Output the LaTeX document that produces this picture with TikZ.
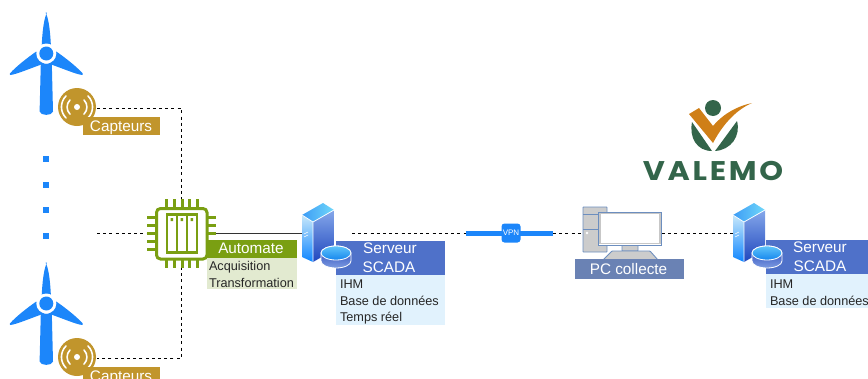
\documentclass[tikz,border=0pt]{standalone}
\usepackage{fontspec}
\setmainfont{Liberation Sans}
\newfontfamily\logofont[LetterSpace=9]{Poppins}
\usetikzlibrary{calc}
\definecolor{tblue}{HTML}{1C86FA}
\definecolor{sgold}{HTML}{C1952C}
\definecolor{cgreen}{HTML}{7A9F12}
\definecolor{clight}{HTML}{E2EAD0}
\definecolor{sblue}{HTML}{4F71C9}
\definecolor{slight}{HTML}{E1F2FD}
\definecolor{pcblue}{HTML}{6A82B4}
\definecolor{pcline}{HTML}{6C8EBF}
\definecolor{lgreen}{HTML}{33654A}
\definecolor{lorange}{HTML}{CF7F17}
\definecolor{frontT}{HTML}{86A8EA}
\definecolor{frontB}{HTML}{1F47BE}
\definecolor{sideT}{HTML}{C8E8FA}
\definecolor{sideB}{HTML}{0F86FF}
\definecolor{topL}{HTML}{3D9CF5}
\definecolor{topR}{HTML}{70D8FA}
\definecolor{diskT}{HTML}{5FC4FA}
\definecolor{diskB}{HTML}{1586EE}
\definecolor{wallT}{HTML}{2240B8}
\definecolor{wallB}{HTML}{7C9BE0}
\tikzset{
 conn/.style={draw=black,line width=0.9pt,dash pattern=on 3pt off 3.2pt},
 lab/.style={inner sep=0pt,outer sep=0pt,font=\fontsize{15.3}{17}\selectfont,text=white,anchor=base},
 sub/.style={inner sep=0pt,outer sep=0pt,font=\fontsize{12.7}{14}\selectfont,text=black!85,anchor=base west},
 box/.style={inner sep=0pt,outer sep=0pt,anchor=north west,minimum height=0pt},
 pcpart/.style={draw=pcline,fill=black!20,line width=0.9pt,rounded corners=0.6pt},
 wave/.style={white,line width=1.6pt,line cap=round},
 pin/.style={cgreen,line width=3pt},
}
\newcommand{\turbine}[2]{%
 \begin{scope}[shift={(#1,#2)}]
  \fill[tblue] (-5.5,10) -- (5.5,10) -- (6.7,58) .. controls (6,62.5) and (-6,62.5) .. (-6.7,58) -- cycle;
  \fill[tblue] (-0.8,-41) .. controls (1.5,-37) and (3.6,-28) .. (4.6,-8) -- (-4.6,-8) .. controls (-3.6,-28) and (-1.5,-37) .. (0.8,-41) -- cycle;
  \fill[tblue] (-10,-2) -- (-2,10) .. controls (-14,14) and (-30,21) .. (-36,21.5) .. controls (-37,21) and (-36.5,20) .. (-36,19.5) .. controls (-30,13) and (-20,5) .. (-10,-2) -- cycle;
  \fill[tblue] (10,-2) -- (2,10) .. controls (14,14) and (30,21) .. (36,21.5) .. controls (37,21) and (36.5,20) .. (36,19.5) .. controls (30,13) and (20,5) .. (10,-2) -- cycle;
  \fill[white] (0,0) circle (10);
  \fill[tblue] (0,0) circle (7);
 \end{scope}}
\newcommand{\sensor}[2]{%
 \begin{scope}[shift={(#1,#2)}]
  \fill[sgold] (0,0) circle (19);
  \fill[white] (0,0) circle (3);
  \draw[wave] (-7,-7) arc (225:135:10);
  \draw[wave] (7,-7) arc (-45:45:10);
  \draw[wave] (-11,-11) arc (225:135:15.5);
  \draw[wave] (11,-11) arc (-45:45:15.5);
 \end{scope}}
\newcommand{\serverico}[2]{%
 \begin{scope}[shift={(#1,#2)}]
  \shade[top color=sideT,bottom color=sideB] (0,0) -- (11,7) -- (11,47) -- (0,42) -- cycle;
  \shade[top color=frontT,bottom color=frontB] (11,7) -- (32,-5) -- (32,35) -- (11,47) -- cycle;
  \shade[left color=topL,right color=topR] (0,0) -- (21,-12) -- (32,-5) -- (11,7) -- cycle;
  \draw[white,line width=0.7pt] (0,0) -- (11,7) -- (32,-5) (11,7) -- (11,47);
  \draw[white,line width=0.5pt] (2,19) -- (6,17) (2,22) -- (6,20);
  \shade[top color=wallT,bottom color=wallB,draw=white,line width=0.8pt] (19,38) -- (19,46) arc (180:0:15 and 7) -- (49,38) arc (0:-180:15 and 7) -- cycle;
  \shade[top color=diskT,bottom color=diskB,draw=white,line width=0.8pt] (34,38) ellipse (15 and 7);
 \end{scope}}
\begin{document}
\begin{tikzpicture}[x=1pt,y=-1pt]
\useasboundingbox (0,0) rectangle (868,378);
\clip (0,0) rectangle (868,378);

\coordinate (s1) at (97,108);
\coordinate (s1c) at (181.5,108);
\coordinate (s2) at (97,358);
\coordinate (s2c) at (181.5,358);
\coordinate (wf) at (97,233);

\turbine{46.3}{53.5}
\turbine{46.3}{303.5}
\foreach \yy in {159,185,210,236}{\fill[tblue] (42.5,\yy-3) rectangle (48.5,\yy+3);}

\node[box,minimum width=19pt,minimum height=19pt] (vpn) at (501.5,223.5) {};
\coordinate (srvR) at (352,233);
\coordinate (srvL) at (302,233);
\coordinate (vpnL) at (466,233);
\coordinate (vpnR) at (553,233);
\coordinate (srv2L) at (733,233);
\coordinate (pcL) at (600,233);
\coordinate (pcR) at (662,233);
\coordinate (chipT) at (181.5,199);
\coordinate (chipB) at (181.5,267);
\coordinate (chipL) at (147,233);
\coordinate (chipR) at (216,233);

\draw[conn] (s1) -- (s1c) -- (chipT);
\draw[conn] (chipB) -- (s2c) -- (s2);
\draw[conn] (wf) -- (chipL);
\draw[black!80,line width=1pt] (chipR) -- (srvL);
\draw[conn] (srvR) -- (vpnL);
\draw[conn] (vpnR) -- (pcL);
\draw[conn] (pcR) -- (srv2L);
\draw[tblue,line width=5pt] (vpnL) -- (vpnR);
\node[fill=tblue,rounded corners=3pt,minimum width=19pt,minimum height=19pt,inner sep=0pt,text=white,font=\fontsize{8}{9}\selectfont] at (vpn) {VPN};

\sensor{77}{107}
\sensor{77}{357}
\node[box,fill=sgold,minimum width=77pt,minimum height=18pt] (c1) at (83,117) {};
\node[lab] at (121,131) {Capteurs};
\node[box,fill=sgold,minimum width=77pt,minimum height=18pt] (c2) at (83,367) {};
\node[lab] at (121,381) {Capteurs};

\fill[white] (156,208) rectangle (207,259);
\foreach \k in {166,174,182,189,197}{
 \draw[pin] (\k,199) -- (\k,208);
 \draw[pin] (\k,259) -- (\k,268);
}
\foreach \k in {217,225,233,241,249}{
 \draw[pin] (147,\k) -- (156,\k);
 \draw[pin] (207,\k) -- (216,\k);
}
\draw[cgreen,line width=3pt,fill=white,rounded corners=4pt] (156.5,208.5) rectangle (207,259);
\draw[cgreen,line width=2.6pt] (167,214.5) rectangle (197,252.5);
\draw[cgreen,line width=2.6pt] (177,214.5) -- (177,252.5) (187,214.5) -- (187,252.5);
\fill[cgreen] (170.5,218) rectangle (173,221) (180.5,218) rectangle (183,221) (190.5,218) rectangle (193,221);

\node[box,fill=cgreen,minimum width=90pt,minimum height=18pt] (auto) at (207,240) {};
\node[lab] at (251,253.5) {Automate};
\node[box,fill=clight,minimum width=90pt,minimum height=31pt] (autos) at (207,258) {};
\node[sub] at (209,270) {Acquisition};
\node[sub] at (209,287) {Transformation};

\node[box,fill=sblue,minimum width=109pt,minimum height=34pt] (s1b) at (336,241) {};
\node[box,fill=slight,minimum width=109pt,minimum height=50pt] (s1l) at (336,275) {};
\serverico{302}{215}
\node[lab] at (390,253.5) {Serveur};
\node[lab] at (389,272.5) {SCADA};
\node[sub] at (340,288.5) {IHM};
\node[sub] at (340,305.5) {Base de données};
\node[sub] at (340,321) {Temps réel};

\node[box,fill=sblue,minimum width=110pt,minimum height=34pt] (s2b) at (766,240) {};
\node[box,fill=slight,minimum width=110pt,minimum height=34pt] (s2l) at (766,274) {};
\serverico{733}{215}
\node[lab] at (820,252) {Serveur};
\node[lab] at (820,271.5) {SCADA};
\node[sub] at (770,288) {IHM};
\node[sub] at (770,305.5) {Base de données};

\draw[pcpart] (583,207) rectangle (607,252);
\draw[pcline,line width=0.9pt] (583,214.5) -- (607,214.5) (583,229.5) -- (607,229.5);
\fill[white] (587,233) circle (1.3);
\draw[pcpart] (622,245) rectangle (638,251);
\draw[pcpart] (612,251) -- (650,251) -- (658,260) -- (603,260) -- cycle;
\draw[draw=pcline,fill=white,line width=0.9pt] (598.5,212) rectangle (661.5,245);
\draw[black!22,line width=1.6pt] (600,213.5) rectangle (660,243.5);
\node[box,fill=pcblue,minimum width=109pt,minimum height=20pt] (pcl) at (575,259) {};
\node[lab] at (628.5,274) {PC collecte};

\fill[lgreen] (713,108) circle (8);
\fill[lgreen] (692,122) .. controls (689,138) and (697,151) .. (712,151) -- (692,122) -- cycle;
\fill[lgreen] (737,121) .. controls (741,136) and (731,150) .. (715,151) -- (737,121) -- cycle;
\fill[lorange] (689,114) -- (699,108) -- (713,126) .. controls (724,113) and (738,106) .. (752,103) .. controls (738,109) and (724,122) .. (713,143) -- cycle;
\node[inner sep=0pt,text=lgreen,font={\logofont\bfseries\fontsize{27}{29}\selectfont}] (logo) at (713,170.5) {\scalebox{1.12}[1]{VALEMO}};
\end{tikzpicture}
\end{document}
